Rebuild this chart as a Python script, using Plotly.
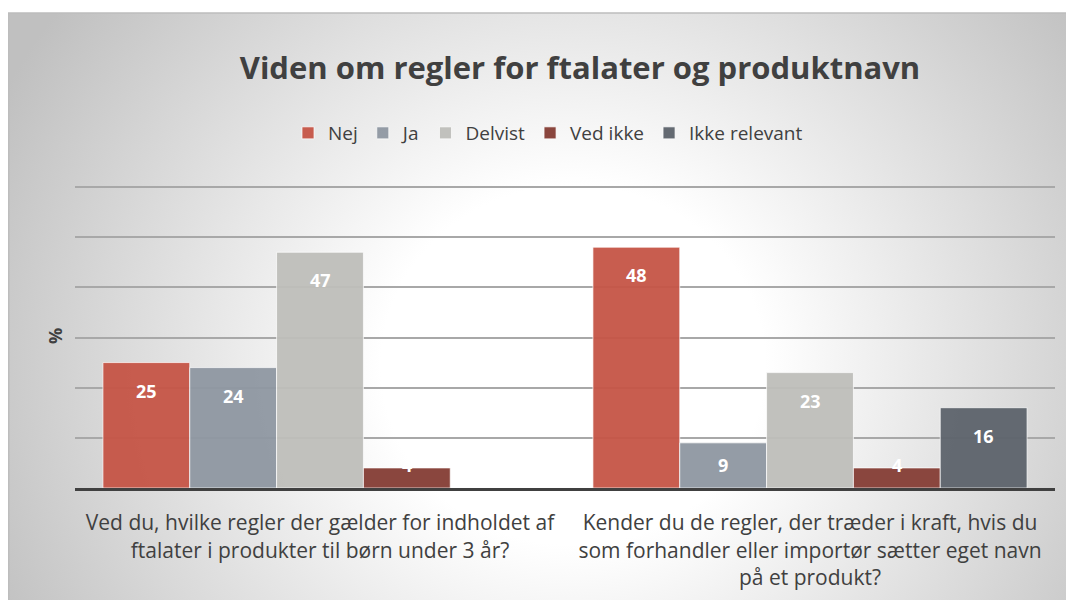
import base64
import plotly.graph_objects as go

# ---- data ----
categories = [
    "Ved du, hvilke regler der gælder for indholdet af<br>ftalater i produkter til børn under 3 år?",
    "Kender du de regler, der træder i kraft, hvis du<br>som forhandler eller importør sætter eget navn<br>på et produkt?",
]
series_names = ["Nej", "Ja", "Delvist", "Ved ikke", "Ikke relevant"]
nej = [25, 48]
ja = [24, 9]
delvist = [47, 23]
ved_ikke = [4, 4]
ikke_relevant = [None, 16]
series_values = [nej, ja, delvist, ved_ikke, ikke_relevant]
colors = ["rgba(197,84,70,0.95)", "rgba(142,151,161,0.95)", "rgba(190,190,185,0.95)",
          "rgba(134,64,56,0.97)", "rgba(95,101,109,0.97)"]

# ---- layout constants (page body has an 8px margin) ----
W, H = 1066, 592
ML, MR, MT, MB = 67, 19, 176, 112
PX_PER_UNIT = 301 / 60
BARGAP = 0.114
pw = W - ML - MR
ph = H - MT - MB
YMAX = ph / PX_PER_UNIT

fig = go.Figure()
for name, vals, col in zip(series_names, series_values, colors):
    fig.add_trace(go.Bar(
        name=name, x=categories, y=vals,
        marker=dict(color=col, line=dict(color="rgba(255,255,255,0.7)", width=1)),
        hoverinfo="skip",
    ))

# data labels (Excel "inside end")
n = len(series_names)
bar_w = pw / len(categories) * (1 - BARGAP) / n
for i, vals in enumerate(series_values):
    for c, v in zip(categories, vals):
        if v is None:
            continue
        ylab = max(v - 28 / PX_PER_UNIT, 23.5 / PX_PER_UNIT)
        fig.add_annotation(
            x=c, y=ylab, xref="x", yref="y", text=f"<b>{v}</b>", showarrow=False,
            xshift=(i - (n - 1) / 2) * bar_w, yanchor="middle",
            font=dict(family="Open Sans", size=18, color="white"),
        )

# background radial gradient as svg
svg = (
    '<svg xmlns="http://www.w3.org/2000/svg" viewBox="0 0 100 100" preserveAspectRatio="none" '
    'width="1000" height="1000">'
    '<defs><radialGradient id="g" gradientUnits="userSpaceOnUse" cx="53" cy="60" r="60" '
    'gradientTransform="translate(53,60) scale(1,1.7) translate(-53,-60)">'
    '<stop offset="0" stop-color="#ffffff"/><stop offset="0.3" stop-color="#ffffff"/>'
    '<stop offset="1" stop-color="#c0c0c0"/></radialGradient></defs>'
    '<rect x="0" y="0" width="100" height="100" fill="url(#g)"/></svg>'
)
src = "data:image/svg+xml;base64," + base64.b64encode(svg.encode()).decode()
fx0, fy0 = 0, 5  # frame top-left in figure pixels
px2x = lambda p: (p - ML) / pw
py2y = lambda p: 1 - (p - MT) / ph
fig.add_layout_image(
    source=src, xref="paper", yref="paper",
    x=px2x(fx0), y=py2y(fy0), sizex=(W - fx0) / pw, sizey=(H - fy0) / ph,
    xanchor="left", yanchor="top", sizing="stretch", layer="below",
)
# frame border lines (left and top)
fig.add_shape(type="line", xref="paper", yref="paper", x0=px2x(0.75), x1=px2x(0.75),
              y0=py2y(fy0), y1=py2y(H), line=dict(color="#bdbdbd", width=1.5))
fig.add_shape(type="line", xref="paper", yref="paper", x0=px2x(0), x1=px2x(W),
              y0=py2y(fy0), y1=py2y(fy0), line=dict(color="#bdbdbd", width=1.5))

fig.update_layout(
    width=W, height=H,
    margin=dict(l=ML, r=MR, t=MT, b=MB, autoexpand=False),
    paper_bgcolor="white", plot_bgcolor="rgba(0,0,0,0)",
    barmode="group", bargap=BARGAP, bargroupgap=0,
    font=dict(family="Open Sans", color="#404040"),
    title=dict(text="<b>Viden om regler for ftalater og produktnavn</b>",
               x=572 / W, xref="container", xanchor="center",
               y=1 - 60 / H, yref="container", yanchor="middle",
               font=dict(family="Open Sans", size=31, color="#404040")),
    legend=dict(orientation="h", x=540 / W, xref="container", xanchor="center",
                y=1 - 125 / H, yref="container", yanchor="middle",
                font=dict(size=19, color="#404040"), bgcolor="rgba(0,0,0,0)",
                traceorder="normal", itemwidth=30),
    showlegend=True,
)
fig.update_xaxes(showline=True, linecolor="#404040", linewidth=3, ticks="",
                 tickfont=dict(size=21, color="#404040"), showgrid=False,
                 ticklabelstandoff=14, automargin=False)
fig.update_yaxes(range=[0, YMAX], dtick=10, showticklabels=False, ticks="",
                 showgrid=True, gridcolor="#a8a8a8", gridwidth=1.5, zeroline=False,
                 automargin=False,
                 title=dict(text="<b>%</b>", standoff=6, font=dict(size=18, color="#404040")))

fig.write_html("out.html")
